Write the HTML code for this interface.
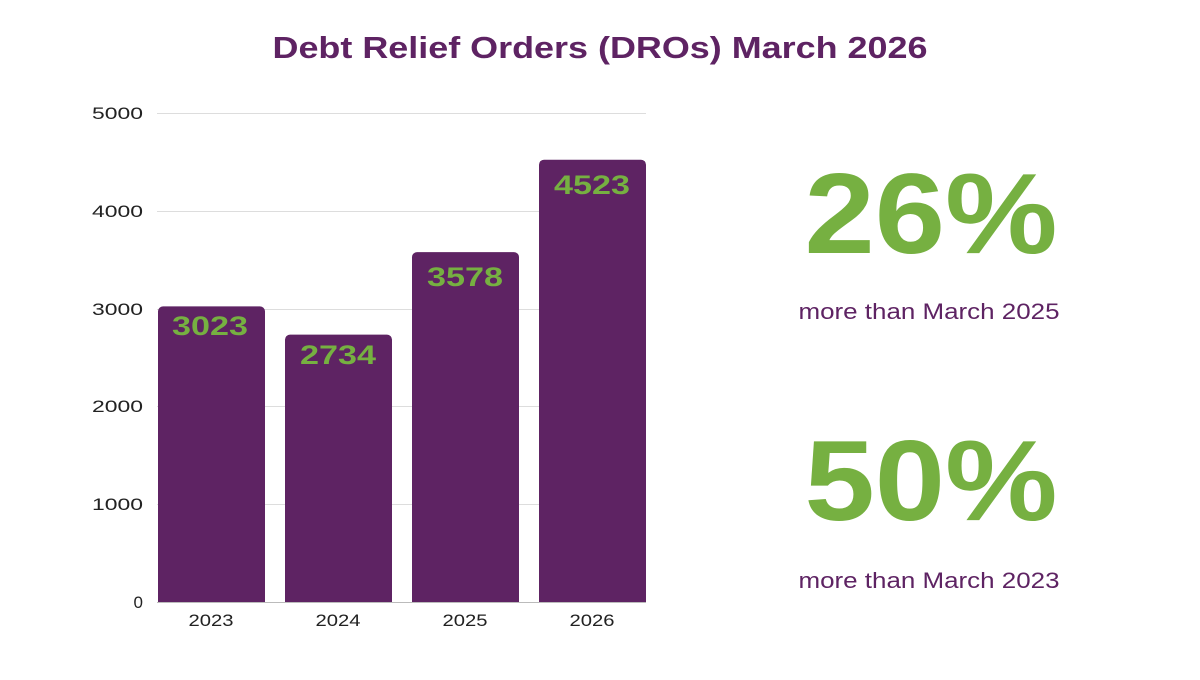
<!DOCTYPE html>
<html><head><meta charset="utf-8"><style>
body{margin:0;width:1200px;height:675px;background:#fff;overflow:hidden;font-family:"Liberation Sans",sans-serif;}
</style></head><body>
<svg width="1200" height="675" xmlns="http://www.w3.org/2000/svg" font-family="Liberation Sans, sans-serif">
<text x="600" y="58" text-anchor="middle" font-size="31" font-weight="bold" fill="#5E2363" textLength="655" lengthAdjust="spacingAndGlyphs">Debt Relief Orders (DROs) March 2026</text>
<g stroke="#dddddd" stroke-width="1">
<line x1="157" y1="113.5" x2="646" y2="113.5"/>
<line x1="157" y1="211.5" x2="646" y2="211.5"/>
<line x1="157" y1="309.5" x2="646" y2="309.5"/>
<line x1="157" y1="406.5" x2="646" y2="406.5"/>
<line x1="157" y1="504.5" x2="646" y2="504.5"/>
</g>
<g font-size="17" fill="#222" text-anchor="end">
<text x="143" y="119" textLength="51" lengthAdjust="spacingAndGlyphs">5000</text><text x="143" y="217" textLength="51" lengthAdjust="spacingAndGlyphs">4000</text><text x="143" y="315" textLength="51" lengthAdjust="spacingAndGlyphs">3000</text>
<text x="143" y="412" textLength="51" lengthAdjust="spacingAndGlyphs">2000</text><text x="143" y="510" textLength="51" lengthAdjust="spacingAndGlyphs">1000</text><text x="143" y="608">0</text>
</g>
<g fill="#5E2363">
<path d="M158 602V311.4a5 5 0 0 1 5-5h97a5 5 0 0 1 5 5V602z"/>
<path d="M285 602V339.6a5 5 0 0 1 5-5h97a5 5 0 0 1 5 5V602z"/>
<path d="M412 602V257.1a5 5 0 0 1 5-5h97a5 5 0 0 1 5 5V602z"/>
<path d="M539 602V164.7a5 5 0 0 1 5-5h97a5 5 0 0 1 5 5V602z"/>
</g>
<line x1="157" y1="602.5" x2="646" y2="602.5" stroke="#bbb"/>
<g font-size="27" font-weight="bold" fill="#76B041" text-anchor="middle">
<text x="210" y="335" textLength="76" lengthAdjust="spacingAndGlyphs">3023</text><text x="338" y="364" textLength="76" lengthAdjust="spacingAndGlyphs">2734</text>
<text x="465" y="286" textLength="76" lengthAdjust="spacingAndGlyphs">3578</text><text x="592" y="194" textLength="76" lengthAdjust="spacingAndGlyphs">4523</text>
</g>
<g font-size="17" fill="#222" text-anchor="middle">
<text x="211" y="626" textLength="45" lengthAdjust="spacingAndGlyphs">2023</text><text x="338" y="626" textLength="45" lengthAdjust="spacingAndGlyphs">2024</text><text x="465" y="626" textLength="45" lengthAdjust="spacingAndGlyphs">2025</text><text x="592" y="626" textLength="45" lengthAdjust="spacingAndGlyphs">2026</text>
</g>
<g font-weight="bold" fill="#76B041" text-anchor="middle" font-size="114">
<text x="931" y="253" textLength="253" lengthAdjust="spacingAndGlyphs">26%</text><text x="931" y="520" textLength="253" lengthAdjust="spacingAndGlyphs">50%</text>
</g>
<g fill="#5E2363" text-anchor="middle" font-size="22">
<text x="929" y="319" textLength="261" lengthAdjust="spacingAndGlyphs">more than March 2025</text><text x="929" y="588" textLength="261" lengthAdjust="spacingAndGlyphs">more than March 2023</text>
</g>
</svg>
</body></html>
